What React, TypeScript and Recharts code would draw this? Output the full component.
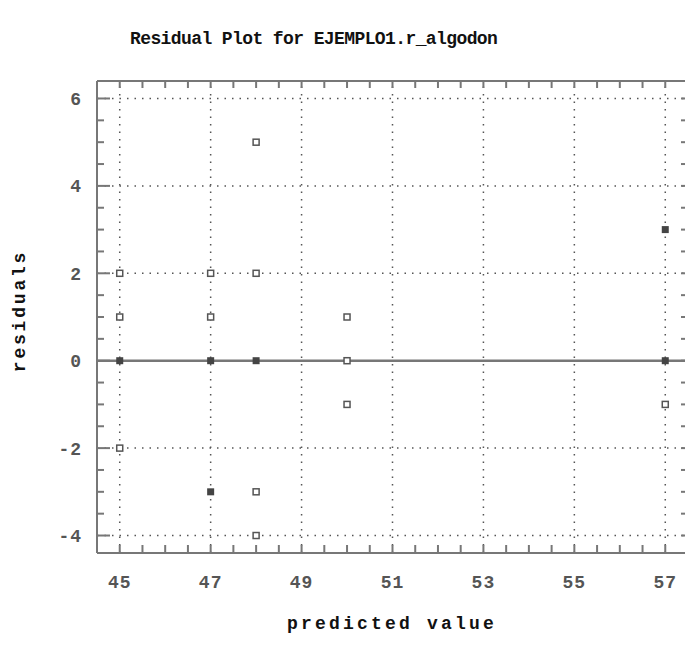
import { ReferenceLine, Scatter, ScatterChart, XAxis, YAxis } from "recharts";

// residuals; "stacked" are the spots where several obs coincide
const singlePoints = [
  { x: 45, y: 2 },
  { x: 45, y: 1 },
  { x: 45, y: -2 },
  { x: 47, y: 2 },
  { x: 47, y: 1 },
  { x: 48, y: 5 },
  { x: 48, y: 2 },
  { x: 48, y: -3 },
  { x: 48, y: -4 },
  { x: 50, y: 1 },
  { x: 50, y: 0 },
  { x: 50, y: -1 },
  { x: 57, y: -1 },
];

const stackedPoints = [
  { x: 45, y: 0 },
  { x: 47, y: 0 },
  { x: 47, y: -3 },
  { x: 48, y: 0 },
  { x: 57, y: 3 },
  { x: 57, y: 0 },
];

const xTicks = [45, 47, 49, 51, 53, 55, 57];
const yTicks = [-4, -2, 0, 2, 4, 6];
const xDomain: [number, number] = [44.5, 57.5];
const yDomain: [number, number] = [-4.4, 6.4];

// tick marks every half unit
const xMinor = Array.from({ length: 26 }, (_, i) => 45 + i * 0.5);
const yMinor = Array.from({ length: 21 }, (_, i) => -4 + i * 0.5);

const [x0, x1] = xDomain;
const [y0, y1] = yDomain;

// anchor points for the frame ticks, placed on the frame through the axes' scales
const bottomTickPts = xMinor.map((v) => ({ x: v, y: y0 }));
const topTickPts = xMinor.map((v) => ({ x: v, y: y1 }));
const leftMajorPts = yTicks.map((v) => ({ x: x0, y: v }));
const leftMinorPts = yMinor.filter((v) => !yTicks.includes(v)).map((v) => ({ x: x0, y: v }));
const rightTickPts = yMinor.map((v) => ({ x: x1, y: v }));

const mono = "'Liberation Mono', 'DejaVu Sans Mono', monospace";
const frame = "#777";
const labelFont = {
  fill: "#555",
  fontSize: 18,
  fontFamily: mono,
  fontWeight: 700,
  letterSpacing: 1,
};

const HollowSquare = (props: any) => {
  const { cx, cy } = props;
  return (
    <rect x={cx - 3} y={cy - 3} width={6} height={6} fill="#fff" stroke="#555" strokeWidth={1.5} />
  );
};

const FilledSquare = (props: any) => {
  const { cx, cy } = props;
  return <rect x={cx - 3.5} y={cy - 3.5} width={7} height={7} fill="#444" />;
};

const tick = (dx: number, dy: number) => (props: any) => {
  const { cx, cy } = props;
  return <line x1={cx} y1={cy} x2={cx + dx} y2={cy + dy} stroke={frame} strokeWidth={2} />;
};

const UpTick = tick(0, -8);
const DownTick = tick(0, 7);
const LongRightTick = tick(13, 0);
const ShortRightTick = tick(7, 0);
const LeftTick = tick(-7, 0);

const labelStyle = {
  position: "absolute" as const,
  fontFamily: mono,
  fontWeight: 700,
  whiteSpace: "nowrap" as const,
  color: "#111",
};

const gridLine = { stroke: "#555", strokeWidth: 1.5, strokeDasharray: "1.5 6" };
const ids = { xAxisId: "main", yAxisId: "main" };

export default function App() {
  return (
    <div
      style={{
        position: "fixed",
        left: 0,
        top: 0,
        width: 685,
        height: 651,
        overflow: "hidden",
        background: "#fff",
      }}
    >
      <div style={{ ...labelStyle, left: 130, top: 29, fontSize: 18, letterSpacing: -0.6 }}>
        Residual Plot for EJEMPLO1.r_algodon
      </div>
      <div
        style={{
          ...labelStyle,
          left: 20,
          top: 311,
          fontSize: 18,
          letterSpacing: 2.8,
          transform: "translate(-50%, -50%) rotate(-90deg)",
        }}
      >
        residuals
      </div>
      <div
        style={{
          ...labelStyle,
          left: 392,
          top: 624,
          fontSize: 18,
          letterSpacing: 3.2,
          transform: "translate(-50%, -50%)",
        }}
      >
        predicted value
      </div>

      <ScatterChart
        width={700}
        height={651}
        margin={{ top: 80, right: 12, bottom: 97, left: 96 }}
        style={{ position: "absolute", left: 0, top: 0 }}
      >
        <XAxis
          xAxisId="main"
          type="number"
          dataKey="x"
          domain={xDomain}
          ticks={xTicks}
          interval={0}
          height={1}
          tickSize={0}
          tickMargin={22}
          tickLine={false}
          axisLine={{ stroke: frame, strokeWidth: 2 }}
          tick={labelFont}
        />
        <XAxis
          xAxisId="top"
          orientation="top"
          type="number"
          domain={xDomain}
          ticks={xTicks}
          height={1}
          tickLine={false}
          tick={false}
          axisLine={{ stroke: frame, strokeWidth: 2 }}
        />
        <YAxis
          yAxisId="main"
          type="number"
          dataKey="y"
          domain={yDomain}
          ticks={yTicks}
          interval={0}
          width={1}
          tickSize={0}
          tickMargin={15}
          tickLine={false}
          axisLine={{ stroke: frame, strokeWidth: 2 }}
          tick={labelFont}
        />
        {xTicks.map((v) => (
          <ReferenceLine key={`gx${v}`} {...ids} x={v} {...gridLine} />
        ))}
        {yTicks.map((v) => (
          <ReferenceLine key={`gy${v}`} {...ids} y={v} {...gridLine} />
        ))}
        <ReferenceLine {...ids} y={0} stroke="#777" strokeWidth={2.5} />

        <Scatter {...ids} data={bottomTickPts} shape={UpTick} isAnimationActive={false} />
        <Scatter {...ids} data={topTickPts} shape={DownTick} isAnimationActive={false} />
        <Scatter {...ids} data={leftMajorPts} shape={LongRightTick} isAnimationActive={false} />
        <Scatter {...ids} data={leftMinorPts} shape={ShortRightTick} isAnimationActive={false} />
        <Scatter {...ids} data={rightTickPts} shape={LeftTick} isAnimationActive={false} />

        <Scatter {...ids} data={singlePoints} shape={HollowSquare} isAnimationActive={false} />
        <Scatter {...ids} data={stackedPoints} shape={FilledSquare} isAnimationActive={false} />
      </ScatterChart>
    </div>
  );
}
